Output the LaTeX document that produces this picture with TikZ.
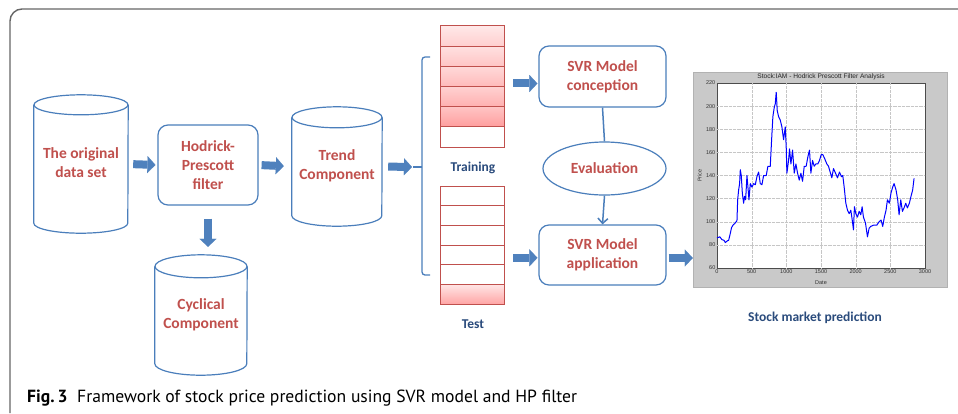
\documentclass[tikz,border=0pt]{standalone}
\usepackage{fontspec}
\setmainfont{Carlito}
\newfontfamily\capfont{PT Sans}
\newfontfamily\chartfont{Liberation Sans}
\usetikzlibrary{arrows.meta,shapes.geometric,calc}
\definecolor{bl}{HTML}{4A7EBB}
\definecolor{rt}{HTML}{C0504D}
\definecolor{dbl}{HTML}{2A4B7C}
\definecolor{af}{HTML}{4F81BD}
\definecolor{chartbg}{HTML}{C9C9C9}
\tikzset{
  cylline/.style={draw=bl,line width=1.2pt},
  cylbody/.style={draw=none,align=center,text=rt,inner sep=0pt,
    font=\bfseries\fontsize{15.5}{19}\selectfont},
  rbox/.style={draw=bl,line width=1.2pt,rounded corners=10pt,align=center,text=rt,
    inner sep=0pt,font=\bfseries\fontsize{15.5}{19}\selectfont},
  evalshape/.style={ellipse,draw=bl,line width=1.2pt,text=rt,inner sep=0pt,
    font=\bfseries\fontsize{15.5}{19}\selectfont},
  blk/.style={draw=af,line width=8pt,-{Triangle[length=8pt,width=17pt,line width=0.1pt]}},
  thinarr/.style={draw=bl,line width=1.5pt,-{Straight Barb[length=5pt,width=10pt]}},
  rowbox/.style={draw=rt,line width=1pt,minimum width=64pt,inner sep=0pt,outer sep=0pt},
  sublabel/.style={text=dbl,font=\bfseries\fontsize{13.5}{16}\selectfont},
  gridl/.style={draw=gray!45,line width=0.3pt,densely dotted},
  tick/.style={font=\chartfont\fontsize{5.5}{6}\selectfont,text=black!80,inner sep=1.5pt},
}
\newcommand\cylout[3]{%
  \draw[cylline] ($(#1.north west)+(0,#3)$) -- ($(#1.south west)+(0,-#3)$)
    arc[start angle=180,end angle=360,x radius=#2pt,y radius=#3pt]
    -- ($(#1.north east)+(0,#3)$);
  \draw[cylline] ($(#1.north)+(0,#3)$) ellipse[x radius=#2pt,y radius=#3pt];}
\newcommand\twolines[3]{\raisebox{#1}{\begin{tabular}{@{}c@{}}#2\\#3\end{tabular}}}
\begin{document}
\begin{tikzpicture}[x=1pt,y=-1pt]
\useasboundingbox (0,0) rectangle (958,413);
\fill[white] (0,0) rectangle (958,413);
% frame
\draw[black!60,line width=1.4pt,rounded corners=12pt] (10,413) -- (10,9) -- (958,9);

% cylinders
\node[cylbody,minimum width=94pt,minimum height=138pt] (orig) at (81,164) {\twolines{-4pt}{The original}{data set}};
\cylout{orig}{47}{10}
\node[cylbody,minimum width=90pt,minimum height=119pt] (trend) at (337,166.5) {\twolines{-5pt}{Trend}{Component}};
\cylout{trend}{45}{10.5}
\node[cylbody,minimum width=92pt,minimum height=120pt] (cyc) at (201,315) {\twolines{-5.5pt}{Cyclical}{Component}};
\cylout{cyc}{46}{11.5}

% HP filter
\node[rbox,minimum width=100pt,minimum height=80pt] (hp) at (208,165) {Hodrick-\\Prescott\\filter};

% SVR boxes
\node[rbox,minimum width=127pt,minimum height=61pt] (conc) at (602.5,76.5) {SVR Model\\conception};
\node[evalshape,minimum width=123pt,minimum height=53pt] (eval) at (604.5,168.5) {Evaluation};
\node[rbox,minimum width=127pt,minimum height=60pt] (app) at (602.5,255) {SVR Model\\application};

% training rows
\node[rowbox,minimum height=20.17pt,top color=red!9,bottom color=red!19] (tr1) at (472,36.08) {};
\node[rowbox,minimum height=20.17pt,top color=red!12,bottom color=red!23] (tr2) at (472,56.25) {};
\node[rowbox,minimum height=20.17pt,top color=red!15,bottom color=red!27] (tr3) at (472,76.42) {};
\node[rowbox,minimum height=20.17pt,top color=red!18,bottom color=red!31] (tr4) at (472,96.58) {};
\node[rowbox,minimum height=20.17pt,top color=red!23,bottom color=red!38] (tr5) at (472,116.75) {};
\node[rowbox,minimum height=20.17pt,fill=white] (tr6) at (472,136.92) {};
% test rows
\node[rowbox,minimum height=19.67pt,fill=white] (te1) at (472,195.83) {};
\node[rowbox,minimum height=19.67pt,fill=white] (te2) at (472,215.5) {};
\node[rowbox,minimum height=19.67pt,fill=white] (te3) at (472,235.17) {};
\node[rowbox,minimum height=19.67pt,fill=white] (te4) at (472,254.83) {};
\node[rowbox,minimum height=19.67pt,fill=white] (te5) at (472,274.5) {};
\node[rowbox,minimum height=19.67pt,top color=red!10,bottom color=red!35] (te6) at (472,294.17) {};

\node[sublabel] (trlab) at (473,168) {Training};
\node[sublabel] (telab) at (473,324) {Test};

% bracket
\draw[draw=bl,line width=1.3pt,rounded corners=3pt] (430,57) -- (422,57) -- (422,275) -- (430,275);
\coordinate (brk) at (413,167);
\draw[draw=bl,line width=1.3pt] (422,167) -- (brk);

% chart
\node[draw=gray!60,fill=chartbg,minimum width=254pt,minimum height=215pt,inner sep=0pt] (chart) at (820,179.5) {};
\node[fill=white,draw=black!70,line width=0.6pt,minimum width=208pt,minimum height=185pt,inner sep=0pt] (plotarea) at (821,175.5) {};
\begin{scope}[shift={(717,268)},x=0.069333pt,y=1.15625pt,shift={(0,-60)}]
  \foreach \gx in {500,1000,...,2500} \draw[gridl] (\gx,60) -- (\gx,220);
  \foreach \gy in {80,100,...,200} \draw[gridl] (0,\gy) -- (3000,\gy);
  \foreach \gx in {0,500,...,3000} \node[tick,anchor=north] (xt\gx) at (\gx,60) {\gx};
  \foreach \gy in {60,80,...,220} \node[tick,anchor=east] (yt\gy) at (0,\gy) {\gy};
  \node[tick,rotate=90] (ylab) at (-250,140) {Price};
  \node[tick] (xlab) at (1500,47) {Date};
  \node[font=\chartfont\fontsize{6.6}{7}\selectfont,text=black!85,inner sep=0pt] (ctitle) at (1500,225.3) {Stock:IAM - Hodrick Prescott Filter Analysis};
  \draw[blue,line width=1pt,line join=round] plot coordinates {
(0,86)(40,87)(72,84.5)(100,84)(120,82)(150,83.5)(168,84)(192,90)(210,95)(230,97)(264,99)(288,101)(298,119)(312,127.5)(326,133)(336,145)(350,140)(365,125)(384,116)(398,122)(413,119)(432,140)(446,130)(461,119)(480,133)(504,130)(528,133)(552,132)(576,139)(600,143)(624,133)(648,132)(672,140)(710,140)(734,148)(768,148)(792,176)(806,191)(826,199)(840,202)(854,212)(869,196)(888,191)(912,188)(936,182)(960,171)(984,182)(998,165)(1008,142)(1032,153)(1046,163)(1066,150)(1090,162)(1114,142)(1138,150)(1162,142)(1186,136)(1210,142)(1234,135)(1258,148)(1286,148)(1310,156)(1334,162)(1354,142)(1378,153)(1402,148)(1426,150)(1454,150)(1478,153)(1502,158)(1526,158)(1550,155)(1584,150)(1608,148)(1632,143)(1656,138)(1680,146)(1709,142)(1738,138)(1766,143)(1795,139)(1814,140)(1834,130)(1858,116)(1882,110)(1906,107)(1930,110)(1949,102)(1968,93)(1982,113)(2002,107)(2026,104)(2050,109)(2074,106)(2093,113)(2112,104)(2141,99)(2170,87)(2194,94.5)(2218,96)(2256,97)(2304,97)(2338,100)(2366,101.5)(2390,96)(2414,104)(2438,110)(2458,119)(2486,116)(2510,125)(2534,130)(2554,133)(2582,127.5)(2606,119)(2626,106)(2650,119)(2674,109)(2698,112)(2722,116)(2746,112)(2774,116)(2798,122)(2822,127.5)(2842,137.5)};
\end{scope}
\node[sublabel] (smp) at (815,318) {Stock market prediction};

% block arrows
\draw[blk,shorten <=5pt,shorten >=2pt] (orig.east) -- (hp.west);
\draw[blk,shorten <=3pt,shorten >=8pt] (hp.east) -- (trend.west);
\draw[blk,shorten <=6pt,shorten >=1pt] (trend.east) -- (brk);
\draw[blk,shorten <=13pt,shorten >=8pt] (hp.south) -- (hp.south |- cyc.north);
\draw[blk,shorten <=9pt,shorten >=1pt] ([yshift=3pt]tr4.north east) -- ([yshift=3pt]conc.west |- tr4.north east);
\draw[blk,shorten <=9pt,shorten >=1pt] ([yshift=-3pt]te4.east) -- ([yshift=-3pt]app.west |- te4.east);
\draw[blk,shorten <=2pt,shorten >=0pt] ([yshift=-3pt]app.east) -- ([yshift=-3pt]chart.west |- app.east);

% SVR connections
\draw[draw=bl,line width=1.5pt] (conc.south) -- (eval.north);
\draw[thinarr] (eval.south) -- (app.north);

% caption
\node[anchor=base west,inner sep=0pt,font=\capfont\fontsize{17.6}{21}\selectfont] (cap) at (27,402) {\textbf{Fig.\,3}\hspace{0.55em}Framework of stock price prediction using SVR model and HP filter};
\end{tikzpicture}
\end{document}
